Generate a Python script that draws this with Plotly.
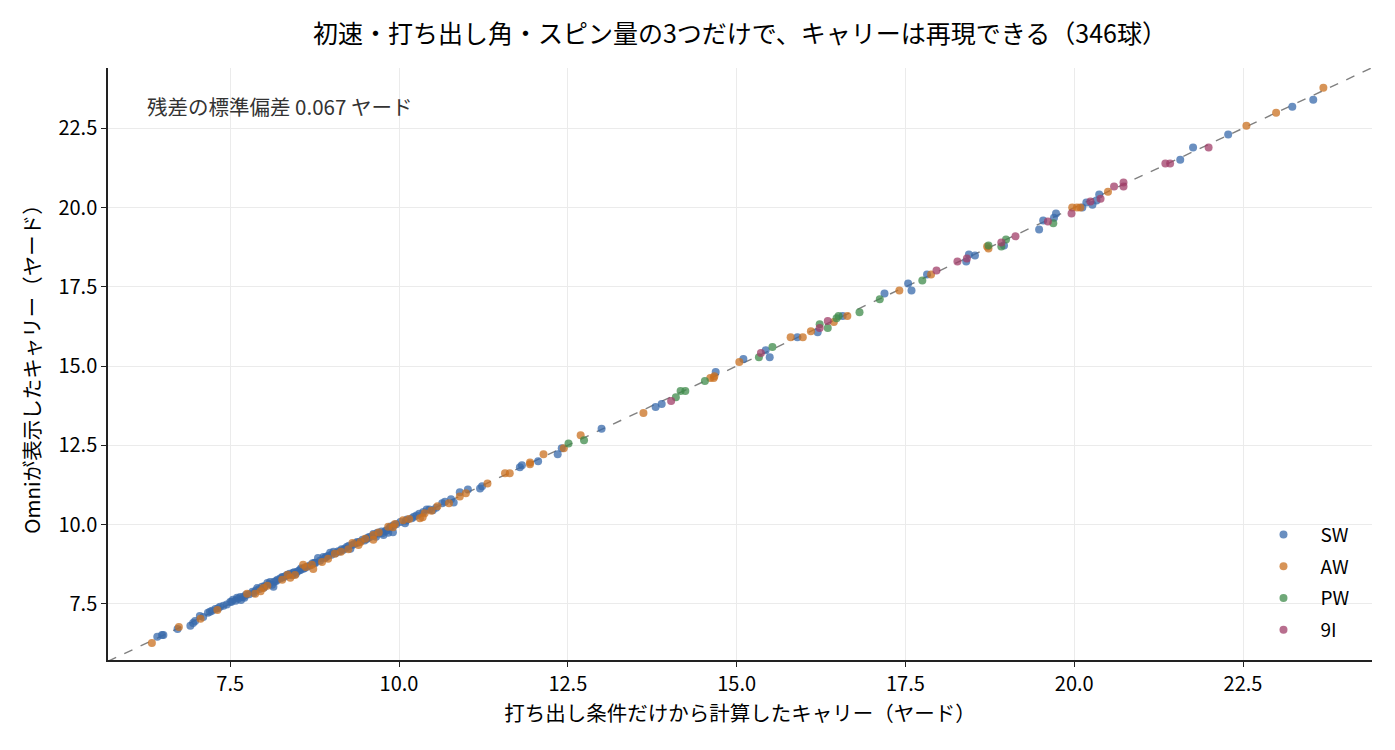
import plotly.graph_objects as go

# --- data ---
clubs = ["SW", "AW", "PW", "9I"]
club_colors = ["#386aab", "#ca7020", "#3f8b4b", "#a03e68"]

sw_calc = [23.54, 23.23, 22.28, 21.76, 21.57, 20.37, 20.33, 20.27, 20.18, 20.12,
           19.73, 19.70, 19.54, 19.48, 18.96, 18.53, 18.44, 18.40, 17.82, 17.54,
           17.59, 17.19, 16.57, 16.20, 15.90, 15.49, 15.43, 15.10, 14.69, 13.89,
           13.80, 13.00, 12.41, 12.35, 12.06, 11.82, 11.79, 11.20, 11.23, 11.02,
           10.90, 10.81, 10.77, 10.64, 10.50, 10.41, 10.26, 10.19, 10.09, 9.82,
           9.75, 9.91, 6.42, 6.49, 6.51, 6.72, 6.91, 6.95, 7.10, 7.17,
           7.23, 7.28, 7.35, 7.40, 7.50, 7.54, 7.60, 7.65, 7.69, 7.83,
           7.90, 7.97, 8.05, 8.09, 8.14, 8.20, 8.27, 8.34, 8.43, 8.49,
           8.54, 8.64, 8.76, 8.80, 8.88, 8.98, 9.03, 9.17, 9.23, 9.31,
           9.38, 9.46, 9.53, 9.57, 9.68, 9.77, 9.84, 7.45, 7.58, 7.62,
           7.71, 7.78, 7.85, 7.93, 8.01, 8.08, 8.12, 8.18, 8.24, 8.31,
           8.38, 8.45, 8.52, 8.60, 8.68, 8.72, 8.83, 8.90, 8.95, 9.06,
           9.12, 9.20, 9.26, 9.34, 9.42, 9.49, 9.55, 9.63, 9.70, 9.74,
           9.80, 9.86, 9.96, 10.02, 10.12, 10.22, 10.30, 10.45, 10.55, 10.68,
           7.20, 7.05, 6.98, 8.00, 8.55, 9.00, 9.38, 9.62, 9.92, 10.10,
           8.15, 8.42, 8.75, 9.15, 9.52, 7.88, 8.28, 7.66, 7.73, 8.36,
           8.47, 8.92, 9.28, 9.66, 9.88, 10.36, 7.32, 7.52, 8.58, 9.10]
sw_omni = [23.40, 23.18, 22.30, 21.89, 21.51, 20.41, 20.22, 20.09, 20.16, 20.00,
           19.81, 19.68, 19.59, 19.31, 18.80, 18.49, 18.52, 18.30, 17.89, 17.60,
           17.38, 17.29, 16.58, 16.07, 15.91, 15.28, 15.50, 15.22, 14.81, 13.80,
           13.71, 13.02, 12.41, 12.22, 12.00, 11.87, 11.81, 11.14, 11.21, 11.11,
           11.02, 10.70, 10.80, 10.67, 10.45, 10.48, 10.29, 10.20, 10.04, 9.82,
           9.73, 9.76, 6.46, 6.52, 6.52, 6.71, 6.81, 6.90, 7.09, 7.22,
           7.28, 7.34, 7.41, 7.44, 7.56, 7.63, 7.69, 7.72, 7.72, 7.88,
           8.00, 8.04, 8.16, 8.19, 8.04, 8.26, 8.35, 8.41, 8.48, 8.51,
           8.57, 8.67, 8.79, 8.95, 8.98, 9.11, 9.14, 9.20, 9.30, 9.36,
           9.42, 9.52, 9.55, 9.61, 9.74, 9.67, 9.74, 7.48, 7.60, 7.66,
           7.69, 7.80, 7.84, 7.97, 8.06, 8.12, 8.10, 8.22, 8.30, 8.36,
           8.45, 8.50, 8.55, 8.62, 8.71, 8.78, 8.86, 8.94, 9.02, 9.10,
           9.15, 9.25, 9.33, 9.40, 9.46, 9.50, 9.60, 9.66, 9.72, 9.78,
           9.80, 9.90, 10.01, 10.08, 10.16, 10.25, 10.34, 10.48, 10.53, 10.72,
           7.25, 7.12, 6.96, 8.02, 8.62, 9.05, 9.45, 9.70, 9.98, 10.12,
           8.20, 8.40, 8.80, 9.22, 9.56, 7.92, 8.33, 7.62, 7.78, 8.42,
           8.44, 8.98, 9.24, 9.62, 9.94, 10.40, 7.36, 7.57, 8.61, 9.16]

aw_calc = [23.69, 22.99, 22.55, 20.50, 19.97, 20.04, 20.09, 18.71, 18.73, 17.88,
           17.41, 16.64, 16.44, 16.10, 15.98, 15.80, 15.04, 14.66, 14.61, 14.67,
           13.62, 12.69, 12.44, 12.14, 11.94, 11.94, 11.64, 11.57, 11.31, 10.99,
           10.90, 10.74, 10.57, 10.38, 10.35, 10.31, 10.06, 9.91, 6.34, 6.74,
           7.06, 7.31, 7.75, 7.87, 7.99, 8.27, 8.39, 8.46, 8.58, 8.71,
           8.73, 8.86, 8.95, 9.14, 9.31, 9.40, 9.43, 9.62, 9.62, 9.84,
           9.94, 8.05, 8.62, 9.05, 9.25, 9.70, 10.15, 8.35, 7.95, 9.50,
           10.48]
aw_omni = [23.78, 22.99, 22.58, 20.50, 20.00, 20.00, 20.00, 18.77, 18.71, 17.89,
           17.38, 16.58, 16.39, 16.10, 15.91, 15.91, 15.13, 14.62, 14.62, 14.68,
           13.52, 12.82, 12.41, 12.22, 11.96, 11.90, 11.62, 11.62, 11.30, 10.99,
           10.89, 10.67, 10.58, 10.36, 10.23, 10.20, 10.14, 9.92, 6.27, 6.77,
           7.03, 7.31, 7.82, 7.82, 8.00, 8.26, 8.32, 8.41, 8.73, 8.73,
           8.60, 8.82, 8.92, 9.14, 9.42, 9.36, 9.45, 9.67, 9.52, 9.93,
           10.02, 8.07, 8.66, 9.08, 9.22, 9.75, 10.18, 8.42, 7.90, 9.55,
           10.44]

pw_calc = [19.69, 18.99, 18.92, 18.73, 17.75, 17.12, 16.82, 16.51, 16.48, 16.35,
           16.23, 15.53, 15.33, 14.53, 14.24, 14.17, 14.10, 12.74, 12.51]
pw_omni = [19.50, 18.99, 18.77, 18.80, 17.70, 17.11, 16.70, 16.58, 16.51, 16.20,
           16.32, 15.60, 15.28, 14.53, 14.21, 14.21, 14.02, 12.66, 12.56]

i9_calc = [21.99, 21.35, 21.42, 20.73, 20.73, 20.59, 20.39, 20.24, 19.96, 19.61,
           19.13, 18.92, 18.41, 18.27, 17.96, 16.35, 16.23, 15.36, 14.03]
i9_omni = [21.89, 21.39, 21.39, 20.79, 20.66, 20.66, 20.28, 20.19, 19.81, 19.56,
           19.09, 18.90, 18.39, 18.30, 18.01, 16.42, 16.20, 15.41, 13.90]

x_range = [5.69, 24.41]
y_range = [5.73, 24.40]
title_text = "初速・打ち出し角・スピン量の3つだけで、キャリーは再現できる（346球）"
note_text = "残差の標準偏差 0.067 ヤード"
x_title = "打ち出し条件だけから計算したキャリー（ヤード）"
y_title = "Omniが表示したキャリー（ヤード）"

font_family = "Noto Sans CJK JP, Noto Sans, sans-serif"

fig = go.Figure()

# y = x reference line across the plot
fig.add_trace(go.Scatter(x=x_range, y=x_range, mode="lines",
                         line=dict(color="#808080", width=1.4, dash="dash"),
                         showlegend=False, hoverinfo="skip"))

series = [(sw_calc, sw_omni), (aw_calc, aw_omni), (pw_calc, pw_omni), (i9_calc, i9_omni)]
for name, color, (xs, ys) in zip(clubs, club_colors, series):
    fig.add_trace(go.Scatter(
        x=xs, y=ys, mode="markers", name=name, legendgroup=name,
        marker=dict(color=color, size=8, opacity=0.75, line=dict(width=0)),
    ))

fig.add_annotation(x=0.029, y=0.936, xref="paper", yref="paper",
                   text=note_text, showarrow=False, xanchor="left", yanchor="middle",
                   font=dict(size=20.5, color="#333333"))

axis_style = dict(
    showline=True, linecolor="#222222", linewidth=1.5,
    ticks="outside", ticklen=5, tickcolor="#222222",
    showgrid=True, gridcolor="#ebebeb", gridwidth=1,
    zeroline=False, mirror=False, automargin=False,
    tickfont=dict(size=20, color="black"),
    dtick=2.5, tick0=0, tickformat=".1f",
)

fig.update_xaxes(range=x_range, title=dict(text=x_title, font=dict(size=20.5, color="black"),
                                           standoff=10), **axis_style)
fig.update_yaxes(range=y_range, title=dict(text=y_title, font=dict(size=20.5, color="black"),
                                           standoff=12), **axis_style)

# page body has an 8px margin, so the figure is a little smaller and shifted
fig.update_layout(
    width=1387, height=742,
    font=dict(family=font_family, color="black"),
    title=dict(text=title_text, xref="paper", x=0.5, xanchor="center",
               y=0.965, yanchor="middle", font=dict(size=25, color="black")),
    plot_bgcolor="white", paper_bgcolor="white",
    margin=dict(l=100, r=23, t=60, b=90),
    legend=dict(x=0.9007, y=0.019, xanchor="left", yanchor="bottom",
                font=dict(size=19), bgcolor="rgba(0,0,0,0)", itemwidth=64,
                tracegroupgap=4, traceorder="grouped"),
)

fig.write_html("out.html")
